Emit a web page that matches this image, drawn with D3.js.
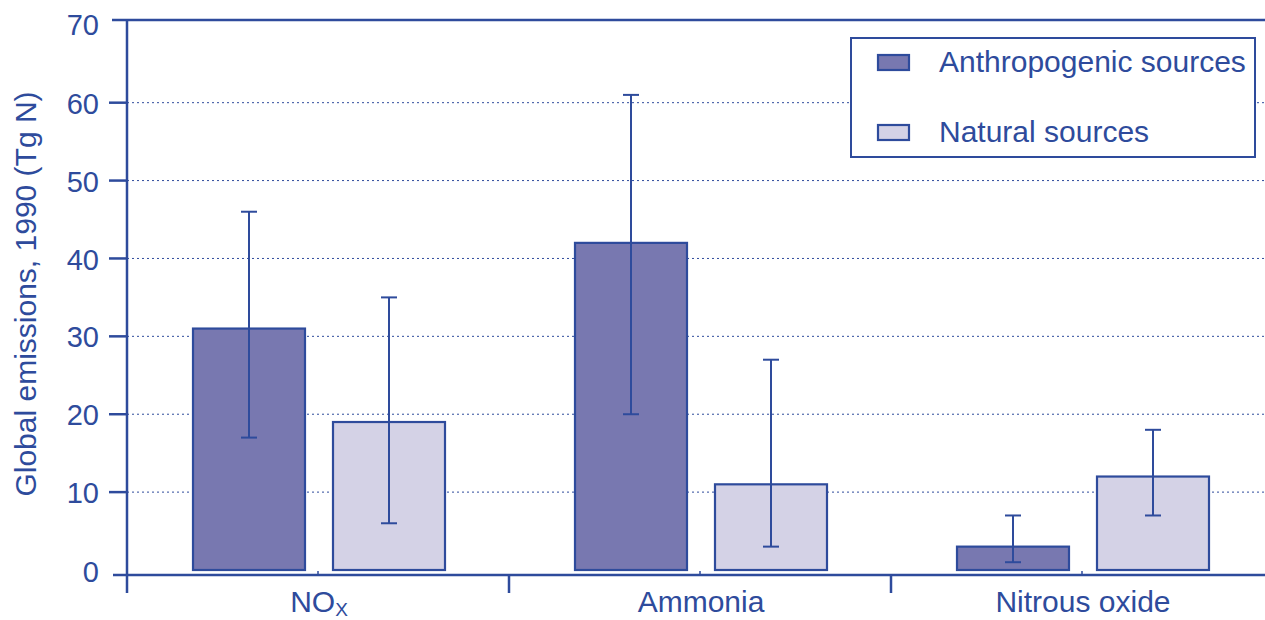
<!DOCTYPE html>
<html><head><meta charset="utf-8">
<script src="https://cdn.jsdelivr.net/npm/d3@7"></script>
<style>
html,body{margin:0;padding:0;background:#fff;}
text{font-family:"Liberation Sans",Arial,sans-serif;fill:#2e4b9c;}
</style></head>
<body><svg id="c" width="1265" height="620"></svg>
<script>
const categories = ["NOx", "Ammonia", "Nitrous oxide"];
const seriesNames = ["Anthropogenic sources", "Natural sources"];
const anthropogenic = [31, 42, 3];
const anthropogenicLow = [17, 20, 1];
const anthropogenicHigh = [46, 61, 7];
const natural = [19, 11, 12];
const naturalLow = [6, 3, 7];
const naturalHigh = [35, 27, 18];
const yTicks = [0, 10, 20, 30, 40, 50, 60, 70];
const yTitle = "Global emissions, 1990 (Tg N)";

const C = "#2e4b9c";
const fills = ["#7878b0", "#d4d2e6"];

const svg = d3.select("#c");
const x = d3.scaleBand().domain(categories).range([127, 1273]).padding(0);
const xs = d3.scaleBand().domain(seriesNames).range([66, 318]).paddingInner(0.2).paddingOuter(0);
const y = d3.scaleLinear().domain([0, 70]).range([570, 24.8]);

// gridlines
svg.append("g").selectAll("line").data(yTicks.filter(t => t > 0 && t < 70)).join("line")
  .attr("x1", 127).attr("x2", 1265)
  .attr("y1", d => y(d)).attr("y2", d => y(d))
  .attr("stroke", C).attr("stroke-width", 1).attr("stroke-dasharray", "2,3");

// data rows
const rows = categories.map((c, i) => ({
  cat: c,
  vals: [
    {s: seriesNames[0], v: anthropogenic[i], lo: anthropogenicLow[i], hi: anthropogenicHigh[i], f: fills[0]},
    {s: seriesNames[1], v: natural[i], lo: naturalLow[i], hi: naturalHigh[i], f: fills[1]}
  ]
}));

const g = svg.append("g");
const grp = g.selectAll("g").data(rows).join("g").attr("transform", d => `translate(${x(d.cat)},0)`);
grp.selectAll("rect").data(d => d.vals).join("rect")
  .attr("x", d => xs(d.s)).attr("width", xs.bandwidth())
  .attr("y", d => y(d.v)).attr("height", d => y(0) - y(d.v))
  .attr("fill", d => d.f).attr("stroke", C).attr("stroke-width", 2.2);
const eb = grp.selectAll("g.eb").data(d => d.vals).join("g").attr("class", "eb");
eb.append("line")
  .attr("x1", d => xs(d.s) + xs.bandwidth() / 2).attr("x2", d => xs(d.s) + xs.bandwidth() / 2)
  .attr("y1", d => y(d.lo)).attr("y2", d => y(d.hi))
  .attr("stroke", C).attr("stroke-width", 2);
eb.selectAll("line.cap").data(d => [{c: xs(d.s) + xs.bandwidth() / 2, v: d.lo}, {c: xs(d.s) + xs.bandwidth() / 2, v: d.hi}])
  .join("line").attr("class", "cap")
  .attr("x1", d => d.c - 8).attr("x2", d => d.c + 8)
  .attr("y1", d => y(d.v)).attr("y2", d => y(d.v))
  .attr("stroke", C).attr("stroke-width", 2);

// axes
const axisY = 575;
svg.append("line").attr("x1", 113).attr("x2", 1265).attr("y1", axisY).attr("y2", axisY).attr("stroke", C).attr("stroke-width", 2.5);
svg.append("line").attr("x1", 112).attr("x2", 1265).attr("y1", 20).attr("y2", 20).attr("stroke", C).attr("stroke-width", 2.5);
svg.append("line").attr("x1", 127).attr("x2", 127).attr("y1", 20).attr("y2", 593).attr("stroke", C).attr("stroke-width", 2.5);

// y ticks
const yt = svg.append("g");
yt.selectAll("line").data(yTicks.filter(t => t > 0 && t < 70)).join("line")
  .attr("x1", 109).attr("x2", 127).attr("y1", d => y(d)).attr("y2", d => y(d))
  .attr("stroke", C).attr("stroke-width", 2.5);
yt.selectAll("text").data(yTicks).join("text")
  .attr("x", 99).attr("y", d => d === 0 ? 572 : d === 70 ? 25 : y(d) + 1)
  .attr("dy", "0.35em").attr("text-anchor", "end").attr("font-size", 29)
  .text(d => d);

// x ticks at band edges
svg.append("g").selectAll("line").data(categories.slice(1)).join("line")
  .attr("x1", d => x(d)).attr("x2", d => x(d)).attr("y1", axisY).attr("y2", 593)
  .attr("stroke", C).attr("stroke-width", 2.5);
svg.append("g").selectAll("line").data(categories).join("line")
  .attr("x1", d => x(d) + x.bandwidth() / 2).attr("x2", d => x(d) + x.bandwidth() / 2)
  .attr("y1", axisY - 4).attr("y2", axisY)
  .attr("stroke", C).attr("stroke-width", 1.5);

// x labels
const xl = svg.append("g").selectAll("text").data(categories).join("text")
  .attr("x", d => x(d) + x.bandwidth() / 2 + 1).attr("y", 612)
  .attr("text-anchor", "middle").attr("font-size", 30);
xl.each(function(d) {
  const t = d3.select(this);
  if (d === "NOx") {
    t.append("tspan").text("NO");
    t.append("tspan").attr("font-size", 19).attr("dy", 4).text("X");
  } else t.text(d);
});

// y title
svg.append("text").attr("transform", "translate(36,294) rotate(-90)")
  .attr("text-anchor", "middle").attr("font-size", 30).text(yTitle);

// legend
const lg = svg.append("g");
lg.append("rect").attr("x", 851).attr("y", 38).attr("width", 404).attr("height", 119)
  .attr("fill", "#fff").attr("stroke", C).attr("stroke-width", 2);
const li = lg.selectAll("g").data(seriesNames).join("g");
li.append("rect").attr("x", 878).attr("y", (d, i) => 55 + i * 70).attr("width", 31).attr("height", 15)
  .attr("fill", (d, i) => fills[i]).attr("stroke", C).attr("stroke-width", 2.2);
li.append("text").attr("x", 939).attr("y", (d, i) => 72 + i * 70).attr("font-size", 30).text(d => d);
</script></body></html>
